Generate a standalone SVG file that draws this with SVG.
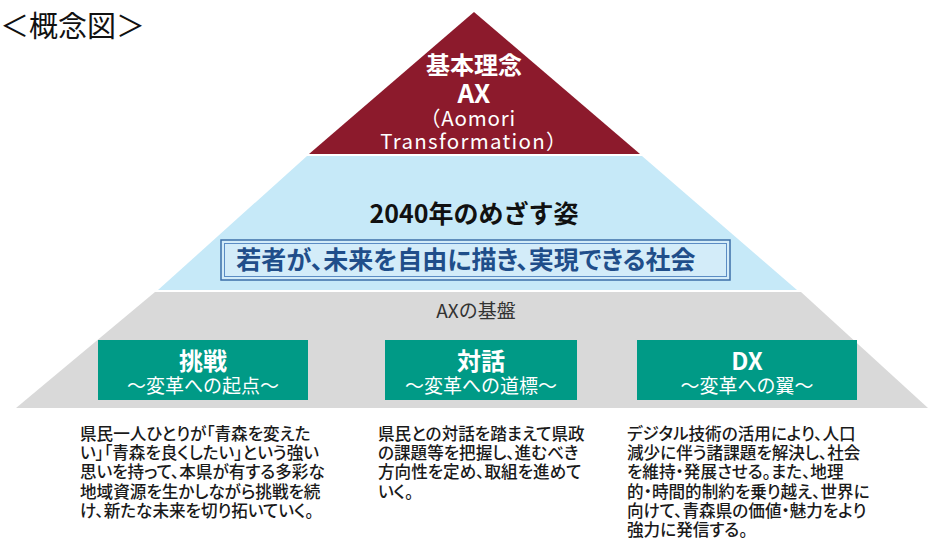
<svg xmlns="http://www.w3.org/2000/svg" width="937" height="541" viewBox="0 0 937 541">
<style>
.jp{font-family:"Noto Sans CJK JP","Noto Sans",sans-serif}
.body{font-family:"Noto Sans CJK JP",sans-serif;font-size:16.6px;fill:#1a1a1a;font-weight:500;font-feature-settings:"palt"}
.ttl{font-size:24px;font-weight:bold;fill:#fff;text-anchor:middle}
.sub{font-size:19px;fill:#fff;text-anchor:middle}
.gbox{fill:#009a86}
</style>
<rect width="937" height="541" fill="#ffffff"/>
<text class="jp" x="0" y="37" font-size="29" fill="#111">＜概念図＞</text>
<g id="pyramid">
<polygon points="474,12 309,154 640,154" fill="#8c1a2c"/>
<polygon points="307,156 642,156 797,290 158,290" fill="#c6e9f8"/>
<polygon points="155,292 801,292 928,408 16,408" fill="#d9d9d9"/>
</g>
<g id="node-axbasic">
<text class="jp" x="474" y="74" font-size="24" font-weight="bold" fill="#fff" text-anchor="middle">基本理念</text>
<text class="jp" x="474" y="103" font-size="26" font-weight="bold" fill="#fff" text-anchor="middle">AX</text>
<text class="jp" x="468" y="126" font-size="20.5" fill="#fff" text-anchor="middle" letter-spacing="0.8">（Aomori</text>
<text class="jp" x="474" y="149" font-size="20.5" fill="#fff" text-anchor="middle" letter-spacing="1.3">Transformation）</text>
</g>
<g id="node-vision">
<text class="jp" x="474" y="223" font-size="25" font-weight="bold" fill="#111" text-anchor="middle">2040年のめざす姿</text>
<rect x="221" y="240" width="509" height="40" fill="#d3ecf9" stroke="#3d6fa8" stroke-width="1.5"/>
<rect x="224.5" y="243.5" width="502" height="33" fill="none" stroke="#5b8cc4" stroke-width="1"/>
<text class="jp" x="466" y="269" font-size="25" font-weight="bold" fill="#1f4e8a" text-anchor="middle" style="font-feature-settings:'palt'">若者が、未来を自由に描き、実現できる社会</text>
</g>
<g id="node-base">
<text class="jp" x="476" y="318" font-size="19" fill="#333" text-anchor="middle">AXの基盤</text>
</g>
<g id="node-challenge">
<rect class="gbox" x="98" y="340" width="210" height="60"/>
<text class="jp ttl" x="203" y="370">挑戦</text>
<text class="jp sub" x="203" y="393">～変革への起点～</text>
<text class="body" x="80" y="440">県民一人ひとりが「青森を変えた</text>
<text class="body" x="80" y="459.2">い」「青森を良くしたい」という強い</text>
<text class="body" x="80" y="478.4">思いを持って、本県が有する多彩な</text>
<text class="body" x="80" y="497.6">地域資源を生かしながら挑戦を続</text>
<text class="body" x="80" y="516.8">け、新たな未来を切り拓いていく。</text>
</g>
<g id="node-dialogue">
<rect class="gbox" x="385" y="340" width="192" height="60"/>
<text class="jp ttl" x="481" y="370">対話</text>
<text class="jp sub" x="481" y="393">～変革への道標～</text>
<text class="body" x="378" y="440">県民との対話を踏まえて県政</text>
<text class="body" x="378" y="459.2">の課題等を把握し、進むべき</text>
<text class="body" x="378" y="478.4">方向性を定め、取組を進めて</text>
<text class="body" x="378" y="497.6">いく。</text>
</g>
<g id="node-dx">
<rect class="gbox" x="637" y="340" width="220" height="60"/>
<text class="jp ttl" x="747" y="370">DX</text>
<text class="jp sub" x="747" y="393">～変革への翼～</text>
<text class="body" x="627" y="440">デジタル技術の活用により、人口</text>
<text class="body" x="627" y="459.2">減少に伴う諸課題を解決し、社会</text>
<text class="body" x="627" y="478.4">を維持・発展させる。また、地理</text>
<text class="body" x="627" y="497.6">的・時間的制約を乗り越え、世界に</text>
<text class="body" x="627" y="516.8">向けて、青森県の価値・魅力をより</text>
<text class="body" x="627" y="536">強力に発信する。</text>
</g>
<g id="connectors"/>
</svg>
